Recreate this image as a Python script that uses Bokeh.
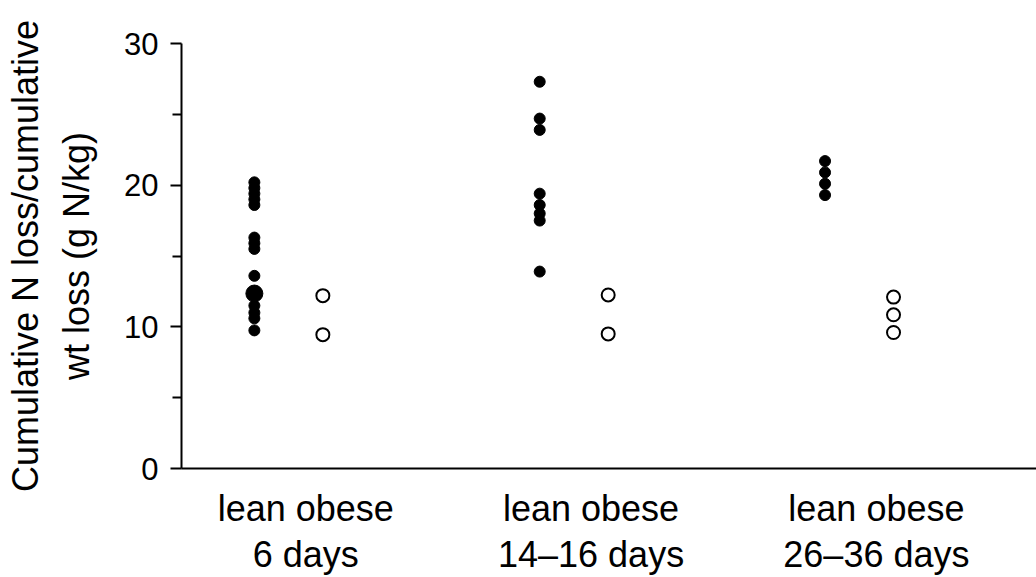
from bokeh.plotting import figure
from bokeh.models import Range1d, FixedTicker, LinearAxis
from bokeh.embed import file_html
from bokeh.resources import INLINE

# ---- data ----
groups = ["6 days", "14\u201316 days", "26\u201336 days"]
subgroups = "lean obese"
lean_values = [
    [20.2, 19.8, 19.4, 19.0, 18.6, 16.3, 15.9, 15.5, 13.6, 11.5, 11.0, 10.6, 9.75],
    [27.3, 24.7, 23.9, 19.4, 18.6, 18.0, 17.5, 13.9],
    [21.7, 20.9, 20.1, 19.3],
]
lean_large_values = [[12.35], [], []]
obese_values = [
    [12.2, 9.45],
    [12.25, 9.5],
    [12.1, 10.85, 9.6],
]
y_ticks = [0, 10, 20, 30]
y_minor_ticks = [5, 15, 25]
y_title_1 = "Cumulative N loss/cumulative"
y_title_2 = "wt loss (g N/kg)"

FONT = "Liberation Sans"
LEAN_OFF = -0.12
OBESE_OFF = 0.12
LABEL_OFF = 0.06

p = figure(width=1036, height=577, output_backend="svg", toolbar_location=None,
           x_range=Range1d(-0.3754, 2.6211), y_range=Range1d(0, 30),
           min_border_left=181, min_border_right=0, min_border_top=43,
           min_border_bottom=109, x_axis_location=None, y_axis_location=None)
p.outline_line_color = None
p.xgrid.visible = False
p.ygrid.visible = False
p.background_fill_color = "white"
p.border_fill_color = "white"

# main y axis
yaxis = LinearAxis(ticker=FixedTicker(ticks=y_ticks, minor_ticks=y_minor_ticks))
yaxis.axis_line_width = 2
yaxis.axis_line_color = "black"
yaxis.major_tick_line_width = 2
yaxis.minor_tick_line_width = 2
yaxis.major_tick_line_color = "black"
yaxis.minor_tick_line_color = "black"
yaxis.major_tick_in = 0
yaxis.major_tick_out = 11
yaxis.minor_tick_in = 0
yaxis.minor_tick_out = 9
yaxis.major_label_standoff = 12
yaxis.major_label_text_font = FONT
yaxis.major_label_text_font_size = "31px"
yaxis.major_label_text_color = "black"
yaxis.axis_label = y_title_2
yaxis.axis_label_standoff = 24
yaxis.axis_label_text_font = FONT
yaxis.axis_label_text_font_size = "36px"
yaxis.axis_label_text_font_style = "normal"
yaxis.axis_label_text_color = "black"
p.add_layout(yaxis, "left")

# outer y axis carrying the first title line
yaxis2 = LinearAxis(ticker=FixedTicker(ticks=[]))
yaxis2.axis_line_color = None
yaxis2.major_tick_out = 0
yaxis2.minor_tick_out = 0
yaxis2.major_label_standoff = 0
yaxis2.axis_label = y_title_1
yaxis2.axis_label_standoff = 8
yaxis2.axis_label_text_font = FONT
yaxis2.axis_label_text_font_size = "36px"
yaxis2.axis_label_text_font_style = "normal"
yaxis2.axis_label_text_color = "black"
p.add_layout(yaxis2, "left")

label_ticks = [g + LABEL_OFF for g in range(len(groups))]

# x axis with "lean obese"
xaxis = LinearAxis(ticker=FixedTicker(ticks=label_ticks))
xaxis.axis_line_width = 2
xaxis.axis_line_color = "black"
xaxis.major_tick_line_color = None
xaxis.major_tick_out = 0
xaxis.major_tick_in = 0
xaxis.minor_tick_out = 0
xaxis.major_label_standoff = 19
xaxis.major_label_overrides = {t: subgroups for t in label_ticks}
xaxis.major_label_text_font = FONT
xaxis.major_label_text_font_size = "36px"
xaxis.major_label_text_color = "black"
p.add_layout(xaxis, "below")

# second x axis with group names
xaxis2 = LinearAxis(ticker=FixedTicker(ticks=label_ticks))
xaxis2.axis_line_color = None
xaxis2.major_tick_line_color = None
xaxis2.major_tick_out = 0
xaxis2.major_tick_in = 0
xaxis2.minor_tick_out = 0
xaxis2.major_label_standoff = 2
xaxis2.major_label_overrides = {t: groups[i] for i, t in enumerate(label_ticks)}
xaxis2.major_label_text_font = FONT
xaxis2.major_label_text_font_size = "36px"
xaxis2.major_label_text_color = "black"
p.add_layout(xaxis2, "below")

for g in range(len(groups)):
    lv = lean_values[g]
    p.scatter([g + LEAN_OFF] * len(lv), lv, size=11, color="black", marker="circle")
    ll = lean_large_values[g]
    if ll:
        p.scatter([g + LEAN_OFF] * len(ll), ll, size=17, color="black", marker="circle")
    ov = obese_values[g]
    p.scatter([g + OBESE_OFF] * len(ov), ov, size=13, line_color="black", line_width=2,
              fill_color="white", marker="circle")

open("out.html", "w").write(file_html(p, INLINE))
